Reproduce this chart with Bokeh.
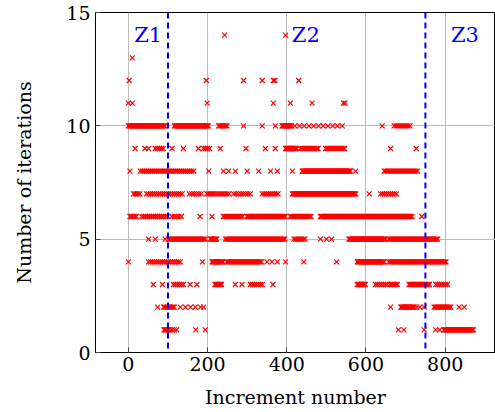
from bokeh.plotting import figure
from bokeh.models import ColumnDataSource, Span, FixedTicker, Range1d
from bokeh.core.properties import value
from bokeh.embed import file_html
from bokeh.resources import INLINE

# Increment numbers observed at each iteration count.
# A tuple (start, end, step) is a run of visible markers; an int is a single marker.
level_1 = [(90, 104, 2), (110, 126, 6), 170, 194, 682, 696, 747, 776, 786, (797, 871, 2)]
level_2 = [74, (89, 118, 3), 131, 144, 157, 169, 182, 190,
           662, (688, 722, 2), 728, 736, 747, (772, 814, 3), 835, 848]
level_3 = [63, 86, (114, 143, 5), 156, 173, (219, 236, 2), 270, 287, (308, 342, 5), 365,
           (578, 599, 2), (624, 654, 5), (661, 679, 3), (709, 760, 3), (776, 806, 5)]
level_4 = [0, (51, 131, 5), 187, (211, 240, 2), (249, 338, 3), 350, 363, 376, 397, 443, 526,
           (578, 646, 2), (658, 802, 3)]
level_5 = [51, 68, 93, (101, 194, 3), (207, 224, 2), (245, 397, 3), (418, 447, 4),
           485, 500, 513, (557, 650, 2), (658, 781, 3)]
level_6 = [(4, 21, 4), (34, 101, 5), (110, 139, 6), 181, 211, (240, 291, 4), (300, 397, 3),
           (409, 464, 4), (485, 717, 3), 741]
level_7 = [(13, 30, 4), (46, 139, 5), (154, 187, 6), (198, 219, 4), (224, 257, 5),
           (266, 308, 6), (338, 380, 5), (414, 574, 2), 608, (637, 679, 5)]
level_8 = [4, (30, 165, 5), 203, 240, 253, 270, 300, 329, 359, 376, 414,
           (439, 561, 2), 574, (646, 730, 4)]
level_9 = [17, 42, 51, (68, 89, 5), 110, 139, 177, (190, 207, 5), 232, 297, 346, 371,
           (397, 426, 2), (435, 481, 4), (498, 549, 4), 662, 727]
level_10 = [(0, 93, 2), (116, 203, 2), (228, 249, 3), 291, 338, 371, (388, 413, 2),
            (420, 549, 12), 641, (671, 713, 5)]
level_11 = [0, 10, 199, 366, 409, 464, 543, 547]
level_12 = [2, 197, 291, 338, 366, 370, 430]
level_13 = [10]
level_14 = [243, 397]

levels = {1: level_1, 2: level_2, 3: level_3, 4: level_4, 5: level_5, 6: level_6,
          7: level_7, 8: level_8, 9: level_9, 10: level_10, 11: level_11,
          12: level_12, 13: level_13, 14: level_14}

zone_bounds = [100, 750]
zone_labels = ["Z1", "Z2", "Z3"]
zone_label_x = [50, 448, 850]
zone_label_y = [14, 14, 14]

x_ticks = [0, 200, 400, 600, 800]
y_ticks = [0, 5, 10, 15]

xs, ys = [], []
for lvl, runs in levels.items():
    for r in runs:
        if isinstance(r, tuple):
            a, b, s = r
            for v in range(a, b + 1, s):
                xs.append(v)
                ys.append(lvl)
        else:
            xs.append(r)
            ys.append(lvl)

FONT = "DejaVu Serif"

p = figure(width=495, height=412, output_backend="svg", toolbar_location=None,
           x_range=Range1d(-83, 927), y_range=Range1d(0, 15),
           min_border_left=95, min_border_right=0, min_border_top=12, min_border_bottom=60)

p.background_fill_color = "white"
p.border_fill_color = "white"
p.outline_line_color = "black"
p.outline_line_width = 1

p.xaxis.ticker = FixedTicker(ticks=x_ticks)
p.yaxis.ticker = FixedTicker(ticks=y_ticks)
for ax in (p.xaxis, p.yaxis):
    ax.major_tick_in = 5
    ax.major_tick_out = 0
    ax.minor_tick_line_color = None
    ax.major_tick_line_color = "#444444"
    ax.axis_line_color = "black"
    ax.major_label_text_font = FONT
    ax.major_label_text_font_size = "19px"
    ax.major_label_text_color = "black"
    ax.axis_label_text_font = FONT
    ax.axis_label_text_font_size = "19px"
    ax.axis_label_text_font_style = "normal"
    ax.axis_label_text_color = "black"
p.xaxis.axis_label = "Increment number"
p.yaxis.axis_label = "Number of iterations"
p.xaxis.major_label_standoff = 4
p.yaxis.major_label_standoff = 5
p.xaxis.axis_label_standoff = 12
p.yaxis.axis_label_standoff = 28

p.xgrid.ticker = FixedTicker(ticks=x_ticks)
p.ygrid.ticker = FixedTicker(ticks=y_ticks)
p.grid.grid_line_color = "#bcbcbc"
p.grid.grid_line_width = 1

src = ColumnDataSource(data=dict(x=xs, y=ys))
p.scatter("x", "y", source=src, marker="x", size=7, line_color="red", line_width=1.2)

for b in zone_bounds:
    p.add_layout(Span(location=b, dimension="height", line_color="blue",
                      line_dash="6 4", line_width=2))

tsrc = ColumnDataSource(data=dict(x=zone_label_x, y=zone_label_y, t=zone_labels))
p.text("x", "y", text="t", source=tsrc, text_color="blue", text_font=value(FONT),
       text_font_size="21px", text_align="center", text_baseline="middle")

open("out.html", "w").write(file_html(p, INLINE))
